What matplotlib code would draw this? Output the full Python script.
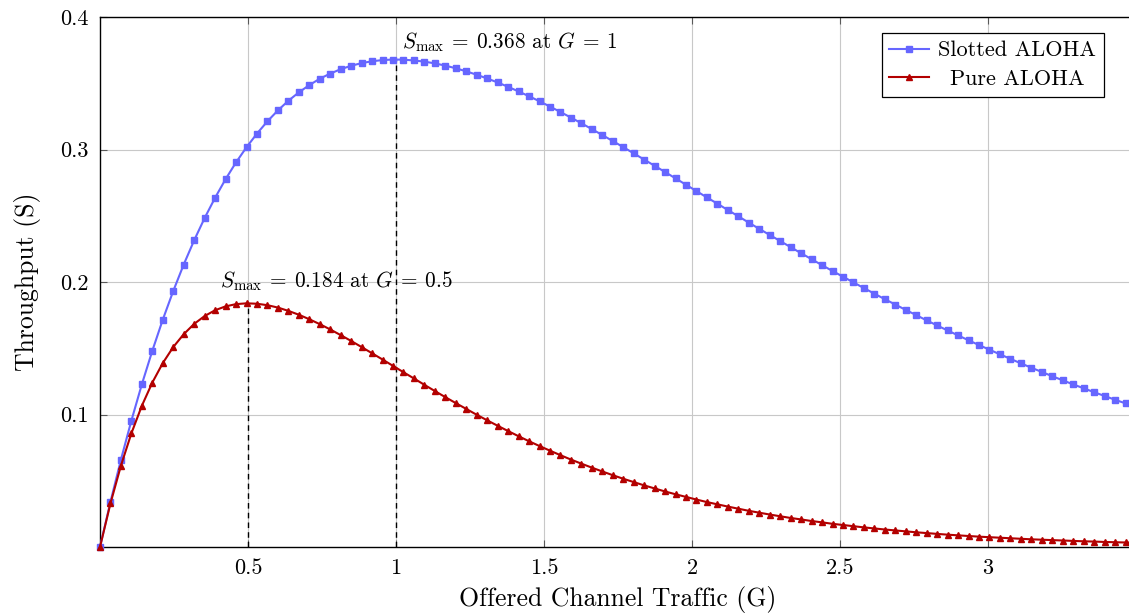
import matplotlib
matplotlib.use("Agg")
import matplotlib.pyplot as plt

plt.rcParams.update({
    "font.family": "serif",
    "font.serif": ["cmr10"],
    "mathtext.fontset": "cm",
    "axes.formatter.use_mathtext": True,
    "font.size": 16,
})

# offered traffic samples (100 samples over 0..3.5)
G = [0.0, 0.03535, 0.07071, 0.10606, 0.14141, 0.17677, 0.21212, 0.24747, 0.28283, 0.31818,
     0.35354, 0.38889, 0.42424, 0.45960, 0.49495, 0.53030, 0.56566, 0.60101, 0.63636, 0.67172,
     0.70707, 0.74242, 0.77778, 0.81313, 0.84848, 0.88384, 0.91919, 0.95455, 0.98990, 1.02525,
     1.06061, 1.09596, 1.13131, 1.16667, 1.20202, 1.23737, 1.27273, 1.30808, 1.34343, 1.37879,
     1.41414, 1.44949, 1.48485, 1.52020, 1.55556, 1.59091, 1.62626, 1.66162, 1.69697, 1.73232,
     1.76768, 1.80303, 1.83838, 1.87374, 1.90909, 1.94444, 1.97980, 2.01515, 2.05051, 2.08586,
     2.12121, 2.15657, 2.19192, 2.22727, 2.26263, 2.29798, 2.33333, 2.36869, 2.40404, 2.43939,
     2.47475, 2.51010, 2.54545, 2.58081, 2.61616, 2.65152, 2.68687, 2.72222, 2.75758, 2.79293,
     2.82828, 2.86364, 2.89899, 2.93434, 2.96970, 3.00505, 3.04040, 3.07576, 3.11111, 3.14646,
     3.18182, 3.21717, 3.25253, 3.28788, 3.32323, 3.35859, 3.39394, 3.42929, 3.46465, 3.50000]

slotted = [0.0, 0.0341, 0.0659, 0.0954, 0.1228, 0.1481, 0.1716, 0.1932, 0.2132, 0.2315,
           0.2483, 0.2636, 0.2776, 0.2903, 0.3017, 0.3120, 0.3213, 0.3295, 0.3368, 0.3431,
           0.3486, 0.3534, 0.3573, 0.3606, 0.3632, 0.3652, 0.3666, 0.3675, 0.3679, 0.3678,
           0.3672, 0.3663, 0.3650, 0.3633, 0.3613, 0.3590, 0.3564, 0.3536, 0.3506, 0.3473,
           0.3438, 0.3402, 0.3364, 0.3324, 0.3283, 0.3241, 0.3198, 0.3154, 0.3109, 0.3064,
           0.3018, 0.2971, 0.2924, 0.2877, 0.2830, 0.2782, 0.2734, 0.2686, 0.2638, 0.2591,
           0.2543, 0.2496, 0.2448, 0.2401, 0.2355, 0.2309, 0.2263, 0.2217, 0.2172, 0.2127,
           0.2083, 0.2040, 0.1997, 0.1954, 0.1912, 0.1870, 0.1830, 0.1789, 0.1750, 0.1710,
           0.1672, 0.1634, 0.1597, 0.1560, 0.1524, 0.1489, 0.1454, 0.1420, 0.1386, 0.1353,
           0.1321, 0.1289, 0.1258, 0.1227, 0.1198, 0.1168, 0.1140, 0.1111, 0.1084, 0.1057]

pure = [0.0, 0.0329, 0.0614, 0.0858, 0.1066, 0.1241, 0.1388, 0.1509, 0.1606, 0.1684,
        0.1743, 0.1787, 0.1816, 0.1833, 0.1839, 0.1836, 0.1825, 0.1807, 0.1782, 0.1753,
        0.1719, 0.1682, 0.1642, 0.1599, 0.1555, 0.1509, 0.1462, 0.1415, 0.1367, 0.1319,
        0.1272, 0.1224, 0.1177, 0.1131, 0.1086, 0.1042, 0.0998, 0.0956, 0.0915, 0.0875,
        0.0836, 0.0798, 0.0762, 0.0727, 0.0693, 0.0660, 0.0629, 0.0599, 0.0570, 0.0542,
        0.0515, 0.0490, 0.0465, 0.0442, 0.0419, 0.0398, 0.0378, 0.0358, 0.0339, 0.0322,
        0.0305, 0.0289, 0.0273, 0.0259, 0.0245, 0.0232, 0.0219, 0.0208, 0.0196, 0.0186,
        0.0175, 0.0166, 0.0157, 0.0148, 0.0140, 0.0132, 0.0125, 0.0118, 0.0111, 0.0105,
        0.0099, 0.0093, 0.0088, 0.0083, 0.0078, 0.0074, 0.0070, 0.0066, 0.0062, 0.0058,
        0.0055, 0.0052, 0.0049, 0.0046, 0.0043, 0.0041, 0.0038, 0.0036, 0.0034, 0.0032]

peaks_G = [1.0, 0.5]
peaks_S = [0.368, 0.184]
xticks = [0.5, 1, 1.5, 2, 2.5, 3]
yticks = [0.1, 0.2, 0.3, 0.4]

BLUE = "#6666ff"
RED = "#b30000"

fig = plt.figure(figsize=(11.29, 6.16), dpi=100)
# axis runs to G=3.5, right part is cut off by the figure edge like the reference
ax = fig.add_axes([100 / 1129, 69 / 616, 1036 / 1129, 530 / 616])

ax.grid(True, color="#c8c8c8", lw=0.8, zorder=0)
for g, s in zip(peaks_G, peaks_S):
    ax.plot([g, g], [0, s], color="black", ls=(0, (4, 3)), lw=1.0, zorder=2)

ax.plot(G, slotted, color=BLUE, lw=1.5, marker="s", ms=4.5, label="Slotted ALOHA", zorder=3,
        clip_on=False)
ax.plot(G, pure, color=RED, lw=1.5, marker="^", ms=5, label="Pure ALOHA", zorder=3,
        clip_on=False)

ax.text(1.02, 0.372, r"$S_{\max}\:=\:0.368$ at $G\:=\:1$", ha="left", va="bottom",
        fontsize=15.3)
ax.text(0.797, 0.1915, r"$S_{\max}\:=\:0.184$ at $G\:=\:0.5$", ha="center", va="bottom",
        fontsize=15.3)

ax.set_xlim(0, 3.5)
ax.set_ylim(0, 0.4)
ax.set_xticks(xticks)
ax.set_xticklabels(["0.5", "1", "1.5", "2", "2.5", "3"])
ax.set_yticks(yticks)
ax.set_yticklabels(["0.1", "0.2", "0.3", "0.4"])
ax.tick_params(direction="in", length=5, width=0.8, color="0.35", top=True, right=True,
               labelsize=16, pad=8)
for sp in ax.spines.values():
    sp.set_linewidth(1.0)

ax.set_xlabel("Offered Channel Traffic (G)", fontsize=18.5, labelpad=6)
ax.set_ylabel("Throughput (S)", fontsize=18.5, labelpad=14)

leg = ax.legend(loc="upper right", bbox_to_anchor=(1104 / 1129, 1 - 33 / 616),
                bbox_transform=fig.transFigure, borderaxespad=0, fancybox=False,
                edgecolor="black", framealpha=1, fontsize=16, handlelength=1.8,
                handletextpad=0.4, labelspacing=0.4, borderpad=0.35)
leg.get_frame().set_linewidth(0.9)

# centre the shorter legend entry like pgfplots does
fig.canvas.draw()
texts = leg.get_texts()
w0 = texts[0].get_window_extent().width
w1 = texts[1].get_window_extent().width
texts[1].set_x((w0 - w1) / 2)

fig.savefig("out.png", dpi=100)
